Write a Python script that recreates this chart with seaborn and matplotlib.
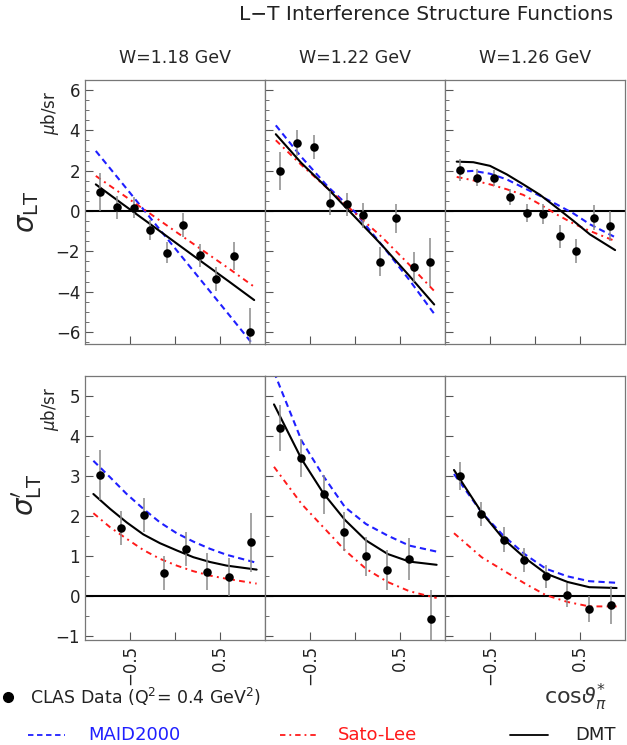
import numpy as np
import pandas as pd
import matplotlib
matplotlib.use("Agg")
import matplotlib.pyplot as plt
from matplotlib.lines import Line2D
import seaborn as sns

# ---- data ----
w_labels = ["W=1.18 GeV", "W=1.22 GeV", "W=1.26 GeV"]

# sigma_LT (top row), 10 bins in cos theta*
x_lt = [-0.83, -0.65, -0.46, -0.28, -0.09, 0.09, 0.28, 0.46, 0.65, 0.83]
lt_val = [
    [0.96, 0.18, 0.17, -0.94, -2.07, -0.70, -2.20, -3.39, -2.24, -6.00],
    [1.97, 3.38, 3.18, 0.40, 0.33, -0.22, -2.52, -0.35, -2.78, -2.52],
    [2.05, 1.66, 1.64, 0.70, -0.10, -0.13, -1.26, -1.99, -0.33, -0.75],
]
lt_err = [
    [0.95, 0.58, 0.50, 0.48, 0.52, 0.60, 0.58, 0.60, 0.70, 1.20],
    [0.95, 0.65, 0.58, 0.60, 0.58, 0.60, 0.72, 0.72, 0.73, 1.20],
    [0.55, 0.40, 0.40, 0.40, 0.47, 0.50, 0.56, 0.58, 0.63, 0.75],
]

# sigma'_LT (bottom row), 8 bins
x_ltp = [-0.83, -0.60, -0.35, -0.12, 0.12, 0.36, 0.60, 0.84]
ltp_val = [
    [3.03, 1.70, 2.03, 0.57, 1.18, 0.61, 0.48, 1.34],
    [4.20, 3.45, 2.54, 1.61, 0.99, 0.64, 0.92, -0.57],
    [3.01, 2.04, 1.41, 0.89, 0.49, 0.02, -0.33, -0.23],
]
ltp_err = [
    [0.62, 0.43, 0.42, 0.42, 0.43, 0.46, 0.48, 0.73],
    [0.58, 0.47, 0.48, 0.49, 0.48, 0.50, 0.52, 0.73],
    [0.35, 0.30, 0.31, 0.30, 0.29, 0.30, 0.32, 0.48],
]

# model curves, top row
xc_lt = [-0.88, -0.60, -0.30, 0.00, 0.30, 0.60, 0.88]
maid_lt = [
    [2.98, 1.45, -0.20, -1.85, -3.50, -5.15, -6.70],
    [4.25, 2.70, 1.20, -0.05, -1.70, -3.40, -5.10],
    None,
]
sato_lt = [
    [1.74, 0.87, -0.06, -1.00, -1.93, -2.86, -3.76],
    [3.51, 2.30, 1.10, -0.10, -1.30, -2.65, -3.97],
    None,
]
dmt_lt = [
    [1.32, 0.40, -0.57, -1.55, -2.53, -3.50, -4.42],
    [3.81, 2.40, 1.10, -0.30, -1.70, -3.20, -4.64],
    None,
]
# third W bin is curved, read on a finer grid
xc_lt3 = [-0.87, -0.685, -0.50, -0.315, -0.13, 0.056, 0.24, 0.43, 0.61, 0.89]
maid_lt[2] = [1.94, 1.99, 1.85, 1.57, 1.16, 0.75, 0.33, -0.13, -0.66, -1.30]
sato_lt[2] = [1.69, 1.52, 1.32, 1.08, 0.80, 0.33, -0.17, -0.63, -0.99, -1.49]
dmt_lt[2] = [2.45, 2.42, 2.24, 1.82, 1.32, 0.80, 0.17, -0.50, -1.16, -1.94]

# model curves, bottom row
xc_ltp1 = [-0.907, -0.722, -0.537, -0.352, -0.167, 0.019, 0.204, 0.389, 0.574, 0.907]
xc_ltp = [-0.90, -0.593, -0.352, -0.111, 0.122, 0.363, 0.604, 0.907]
maid_ltp = [
    [3.38, 2.97, 2.55, 2.18, 1.84, 1.57, 1.36, 1.18, 1.03, 0.83],
    [5.60, 3.88, 3.00, 2.22, 1.80, 1.51, 1.26, 1.11],
    [3.05, 2.09, 1.51, 1.04, 0.68, 0.49, 0.37, 0.33],
]
sato_ltp = [
    [2.07, 1.72, 1.43, 1.15, 0.93, 0.76, 0.62, 0.51, 0.43, 0.31],
    [3.23, 2.30, 1.72, 1.14, 0.68, 0.35, 0.12, -0.05],
    [1.57, 0.97, 0.64, 0.31, 0.02, -0.15, -0.26, -0.26],
]
dmt_ltp = [
    [2.55, 2.18, 1.84, 1.54, 1.32, 1.14, 0.97, 0.85, 0.76, 0.66],
    [4.79, 3.42, 2.57, 1.90, 1.39, 1.05, 0.86, 0.78],
    [3.15, 2.09, 1.43, 0.95, 0.56, 0.35, 0.22, 0.20],
]

# ---- style ----
sns.set_style("ticks")
plt.rcParams["font.family"] = ["DejaVu Sans"]
plt.rcParams["axes.edgecolor"] = "#777777"
plt.rcParams["xtick.color"] = "#555555"
plt.rcParams["ytick.color"] = "#555555"
plt.rcParams["xtick.labelcolor"] = "#222222"
plt.rcParams["ytick.labelcolor"] = "#222222"

W, H = 627, 745
fig = plt.figure(figsize=(W / 100, H / 100), dpi=100)


def fx(px):
    return px / W


def fy(py):
    return 1 - py / H


col_left = [85, 265, 445]
col_w = 180
row_top = [80, 376]
row_h = 264

blue = "#1f1fff"
red = "#ff1a1a"


def draw_panel(ax, xd, yd, ed, curves):
    ax.axhline(0, color="black", lw=1.5, zorder=1)
    for xc, yc, color, dash, lw in curves:
        df = pd.DataFrame({"x": xc, "y": yc})
        line = sns.lineplot(data=df, x="x", y="y", ax=ax, color=color, lw=lw,
                            sort=False, estimator=None, zorder=2)
        if dash is not None:
            line.lines[-1].set_dashes(dash)
    ax.errorbar(xd, yd, yerr=ed, fmt="none", ecolor="#8a8a8a", elinewidth=1.1,
                capsize=0, zorder=3)
    pts = pd.DataFrame({"x": xd, "y": yd})
    sns.scatterplot(data=pts, x="x", y="y", ax=ax, color="black", s=38,
                    edgecolor="black", linewidth=0, zorder=4)
    ax.set_xlim(-1, 1)
    ax.set_xlabel("")
    ax.set_ylabel("")
    ax.set_xticks([-0.5, 0, 0.5])
    ax.tick_params(axis="both", direction="in", length=6, width=0.8,
                   labelsize=12)
    ax.tick_params(axis="y", which="minor", direction="in", length=3, width=0.6)
    ax.tick_params(axis="x", which="minor", length=0)
    for s in ax.spines.values():
        s.set_visible(True)
        s.set_linewidth(0.9)


axes = []
for r in range(2):
    for c in range(3):
        ax = fig.add_axes([fx(col_left[c]), fy(row_top[r] + row_h),
                           fx(col_w), row_h / H])
        if r == 0:
            xc = xc_lt3 if c == 2 else xc_lt
            curves = [
                (xc, maid_lt[c], blue, (3, 2), 1.5),
                (xc, sato_lt[c], red, (3, 2.2, 1, 2.2), 1.4),
                (xc, dmt_lt[c], "black", None, 1.5),
            ]
            draw_panel(ax, x_lt, lt_val[c], lt_err[c], curves)
            ax.set_ylim(-6.6, 6.5)
            ax.set_yticks([-6, -4, -2, 0, 2, 4, 6])
            ax.set_yticks(np.arange(-6.5, 6.6, 0.5), minor=True)
            ax.set_xticklabels([])
            ax.set_title(w_labels[c], fontsize=12.5, pad=12)
        else:
            xc = xc_ltp1 if c == 0 else xc_ltp
            curves = [
                (xc, maid_ltp[c], blue, (3, 2), 1.5),
                (xc, sato_ltp[c], red, (3, 2.2, 1, 2.2), 1.4),
                (xc, dmt_ltp[c], "black", None, 1.5),
            ]
            draw_panel(ax, x_ltp, ltp_val[c], ltp_err[c], curves)
            ax.set_ylim(-1.1, 5.5)
            ax.set_yticks([-1, 0, 1, 2, 3, 4, 5])
            ax.set_yticks(np.arange(-1, 5.6, 0.5), minor=True)
            ax.set_xticklabels(["\u22120.5", "", "0.5"], rotation=90)
        if c > 0:
            ax.set_yticklabels([])
        else:
            ax.set_yticklabels([f"{v:g}".replace("-", "\u2212")
                                for v in ax.get_yticks()])
        axes.append(ax)

# ---- texts ----
fig.text(fx(613), fy(15), "L\u2212T Interference Structure Functions",
         fontsize=14.5, ha="right", va="center", color="#222222")
fig.text(fx(27), fy(212), r"$\sigma_{\mathrm{LT}}$", fontsize=20,
         rotation=90, ha="center", va="center")
fig.text(fx(27), fy(495), r"$\sigma^{\prime}_{\mathrm{LT}}$", fontsize=20,
         rotation=90, ha="center", va="center")
fig.text(fx(50), fy(113), r"$\mu$b/sr", fontsize=12, rotation=90,
         ha="center", va="center")
fig.text(fx(50), fy(409), r"$\mu$b/sr", fontsize=12, rotation=90,
         ha="center", va="center")
fig.text(fx(575), fy(697), r"cos$\vartheta^{*}_{\pi}$", fontsize=16,
         ha="center", va="center", color="#333333")

# ---- legend ----
fig.add_artist(Line2D([fx(8)], [fy(697)], marker="o", color="black",
                      markersize=7, lw=0, transform=fig.transFigure))
fig.text(fx(30), fy(697), "CLAS Data (Q$^2$= 0.4 GeV$^2$)", fontsize=12.5,
         ha="left", va="center", color="#222222")
leg_items = [
    (28, 65, 88, "MAID2000", blue, (3, 2)),
    (280, 318, 338, "Sato-Lee", red, (3, 2.2, 1, 2.2)),
    (510, 548, 575, "DMT", "black", None),
]
for x0, x1, xt, lab, color, dash in leg_items:
    ln = Line2D([fx(x0), fx(x1)], [fy(735), fy(735)], color=color, lw=1.3,
                transform=fig.transFigure)
    if dash is not None:
        ln.set_dashes(dash)
    fig.add_artist(ln)
    fig.text(fx(xt), fy(735), lab, fontsize=13, ha="left", va="center",
             color=color if color != "black" else "#222222")

fig.savefig("out.png", dpi=100)
